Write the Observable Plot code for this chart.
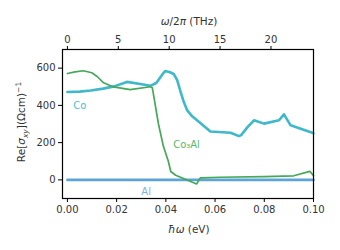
<!DOCTYPE html>
<html><head><meta charset="utf-8">
<script src="https://cdn.jsdelivr.net/npm/d3@7"></script>
<script src="https://cdn.jsdelivr.net/npm/@observablehq/plot@0.6"></script>
<style>body{margin:0;background:#fff}svg{font-family:"DejaVu Sans",sans-serif}</style>
</head><body><div id="chart"></div>
<script>
// photon energy (eV) and Re[sigma_xy] values
const coX = [0, 0.005, 0.0095, 0.0145, 0.019, 0.0242, 0.0296, 0.0337, 0.0361, 0.0385, 0.0397, 0.0417, 0.0433, 0.0446, 0.046, 0.0473, 0.0487, 0.0507, 0.054, 0.0581, 0.0663, 0.0697, 0.0706, 0.0732, 0.0758, 0.0799, 0.086, 0.088, 0.0907, 0.0995, 0.1];
const coY = [472, 474, 480, 490, 502, 526, 515, 505, 520, 565, 584, 578, 567, 535, 472, 418, 373, 341, 305, 260, 253, 235, 240, 283, 320, 302, 320, 352, 293, 253, 250];
const co3alX = [0, 0.0031, 0.0065, 0.0099, 0.0121, 0.0147, 0.0187, 0.0255, 0.0337, 0.0345, 0.037, 0.039, 0.041, 0.042, 0.044, 0.0525, 0.054, 0.062, 0.08, 0.092, 0.0985, 0.1];
const co3alY = [571, 580, 586, 575, 555, 521, 499, 485, 500, 495, 300, 180, 100, 45, 25, -22, 11, 14, 17, 22, 46, 23];
const alX = [0, 0.1];
const alY = [0, 0];
const series = ["Co", "Co₃Al", "Al"];
const colors = ["#3fb8c9", "#46a85a", "#5ea4d6"];
const labelColors = ["#4cc0d0", "#5cb86c", "#7ab4e0"];
const yTicks = [0, 200, 400, 600];
const xTicks = [0, 0.02, 0.04, 0.06, 0.08, 0.10];
const thzTicks = [0, 5, 10, 15, 20];
const EV_PER_THZ = 0.0041356677;
// label anchor points (data coords)
const labelX = [0.005, 0.0484, 0.032];
const labelY = [400, 190, -62];

const co = coX.map((x, i) => ({x, y: coY[i]}));
const co3al = co3alX.map((x, i) => ({x, y: co3alY[i]}));
const al = alX.map((x, i) => ({x, y: alY[i]}));
const labels = series.map((s, i) => ({s, x: labelX[i], y: labelY[i], c: labelColors[i]}));

const plot = Plot.plot({
  width: 340, height: 250,
  marginLeft: 62, marginRight: 27, marginTop: 49, marginBottom: 52,
  style: {fontSize: "10px", fontFamily: "DejaVu Sans, sans-serif", color: "#333"},
  x: {domain: [-0.002, 0.1]},
  y: {domain: [-100, 700]},
  marks: [
    Plot.line(al, {x: "x", y: "y", stroke: colors[2], strokeWidth: 2.6}),
    Plot.line(co, {x: "x", y: "y", stroke: colors[0], strokeWidth: 2.6, strokeLinejoin: "round"}),
    Plot.line(co3al, {x: "x", y: "y", stroke: colors[1], strokeWidth: 1.7, strokeLinejoin: "round"}),
    Plot.text(labels, {x: "x", y: "y", text: "s", fill: "c", fontSize: 10}),
    Plot.axisX(xTicks, {anchor: "bottom", tickSize: 4, tickPadding: 3, tickFormat: d3.format(".2f"), label: null, stroke: "#000"}),
    Plot.axisX(thzTicks.map(t => t * EV_PER_THZ), {anchor: "top", tickSize: 4, tickPadding: 3, tickFormat: d => String(Math.round(d / EV_PER_THZ)), label: null, stroke: "#000"}),
    Plot.axisY(yTicks, {anchor: "left", tickSize: 4, tickPadding: 3, label: null, stroke: "#000"}),
    Plot.frame({stroke: "#000", strokeWidth: 1.2})
  ]
});
document.getElementById("chart").append(plot);

const svg = d3.select(plot);
const tcol = "#333";
// bottom label: ħω (eV)
const bl = svg.append("text").attr("x", 189).attr("y", 233).attr("text-anchor", "middle").attr("fill", tcol).attr("font-size", 10.5);
bl.append("tspan").attr("font-style", "italic").text("ħω");
bl.append("tspan").text(" (eV)");
// top label: ω/2π (THz)
const tl = svg.append("text").attr("x", 189).attr("y", 25).attr("text-anchor", "middle").attr("fill", tcol).attr("font-size", 10.5);
tl.append("tspan").attr("font-style", "italic").text("ω");
tl.append("tspan").text("/2");
tl.append("tspan").attr("font-style", "italic").text("π");
tl.append("tspan").text(" (THz)");
// y label: Re[σ_xy](Ωcm)^-1
const yl = svg.append("text").attr("transform", "translate(25,122) rotate(-90)").attr("text-anchor", "middle").attr("fill", tcol).attr("font-size", 10.5);
yl.append("tspan").text("Re[");
yl.append("tspan").attr("font-style", "italic").text("σ");
yl.append("tspan").attr("font-style", "italic").attr("font-size", 7.5).attr("dy", 2.5).text("xy");
yl.append("tspan").attr("dy", -2.5).text("](Ωcm)");
yl.append("tspan").attr("font-size", 7.5).attr("dy", -4.5).text("−1");
</script>
</body></html>
